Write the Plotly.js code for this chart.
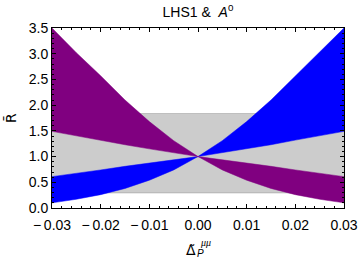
<!DOCTYPE html>
<html>
<head>
<meta charset="utf-8">
<script src="https://cdn.plot.ly/plotly-3.0.1.min.js"></script>
<style>html,body{margin:0;padding:0;background:#fff;}#chart{width:360px;height:258px;}</style>
</head>
<body>
<div id="chart"></div>
<script>
// Data
const deltaP = [-0.03, -0.025, -0.02, -0.015, -0.01, -0.005, 0, 0.005, 0.01, 0.015, 0.02, 0.025, 0.03];
const purpleUpper = [3.50, 3.02, 2.57, 2.10, 1.68, 1.31, 1.00, 0.94, 0.87, 0.81, 0.74, 0.67, 0.61];
const purpleLower = [1.49, 1.41, 1.32, 1.23, 1.15, 1.07, 1.00, 0.74, 0.54, 0.38, 0.26, 0.17, 0.10];
const blueUpper = [0.61, 0.67, 0.74, 0.81, 0.87, 0.94, 1.00, 1.31, 1.68, 2.10, 2.57, 3.02, 3.50];
const blueLower = [0.10, 0.17, 0.26, 0.38, 0.54, 0.74, 1.00, 1.07, 1.15, 1.23, 1.32, 1.41, 1.49];
const bandRange = [0.30, 1.83];
const xTickVals = [-0.03, -0.02, -0.01, 0, 0.01, 0.02, 0.03];
const xTickText = ["\u2212\u20090.03", "\u2212\u20090.02", "\u2212\u20090.01", "0.00", "0.01", "0.02", "0.03"];
const yTickVals = [0, 0.5, 1, 1.5, 2, 2.5, 3, 3.5];
const yTickText = ["0.0", "0.5", "1.0", "1.5", "2.0", "2.5", "3.0", "3.5"];

function polygon(xs, up, lo) {
  return {
    x: xs.concat(xs.slice().reverse()),
    y: up.concat(lo.slice().reverse())
  };
}

const pb = polygon(deltaP, blueUpper, blueLower);
const pp = polygon(deltaP, purpleUpper, purpleLower);

const traces = [
  {x: [deltaP[0], deltaP[deltaP.length-1], deltaP[deltaP.length-1], deltaP[0]],
   y: [bandRange[0], bandRange[0], bandRange[1], bandRange[1]],
   type: 'scatter', mode: 'lines', fill: 'toself', fillcolor: '#cccccc',
   line: {width: 0}, hoverinfo: 'skip', showlegend: false},
  {x: pb.x, y: pb.y, type: 'scatter', mode: 'lines', fill: 'toself',
   fillcolor: '#0000ff', line: {width: 0.5, color: '#0000ff'}, showlegend: false},
  {x: pp.x, y: pp.y, type: 'scatter', mode: 'lines', fill: 'toself',
   fillcolor: '#800080', line: {width: 0.5, color: '#800080'}, showlegend: false}
];

const font = {family: 'Liberation Sans, Arial, sans-serif', size: 14, color: '#000'};

const layout = {
  width: 360, height: 258,
  margin: {l: 52, r: 16, t: 28, b: 50},
  paper_bgcolor: '#fff', plot_bgcolor: '#fff',
  showlegend: false,
  font: font,
  title: {text: 'LHS1\u00a0&\u00a0\u00a0<i>A</i><sup>0</sup>', x: 0.55, xanchor: 'center', y: 0.955, yanchor: 'middle',
          font: {family: 'Liberation Sans, Arial, sans-serif', size: 14, color: '#000'}},
  xaxis: {
    range: [-0.03, 0.03], showgrid: false, zeroline: false,
    showline: true, linecolor: '#000', linewidth: 1, mirror: 'ticks',
    ticks: 'inside', ticklen: 4, tickwidth: 1, tickcolor: '#000',
    tickvals: xTickVals, ticktext: xTickText, ticklabelstandoff: 4,
    minor: {ticks: 'inside', ticklen: 2, dtick: 0.002, tickcolor: '#000', showgrid: false},
    tickfont: font
  },
  yaxis: {
    range: [0, 3.5], showgrid: false, zeroline: false,
    showline: true, linecolor: '#000', linewidth: 1, mirror: 'ticks',
    ticks: 'inside', ticklen: 4, tickwidth: 1, tickcolor: '#000',
    tickvals: yTickVals, ticktext: yTickText,
    minor: {ticks: 'inside', ticklen: 2, dtick: 0.1, tickcolor: '#000', showgrid: false},
    tickfont: font,
    title: {text: 'R\u0304', font: {family: 'DejaVu Sans, sans-serif', size: 14, color: '#000'}, standoff: 8}
  },
  shapes: [
    {type: 'line', xref: 'x', yref: 'y', x0: deltaP[0], x1: deltaP[deltaP.length-1], y0: bandRange[1], y1: bandRange[1],
     line: {color: '#999', width: 1}, layer: 'below'},
    {type: 'line', xref: 'x', yref: 'y', x0: deltaP[0], x1: deltaP[deltaP.length-1], y0: bandRange[0], y1: bandRange[0],
     line: {color: '#aaa', width: 1.5}, layer: 'below'}
  ],
  annotations: [
    {text: '\u0394\u0303', xref: 'paper', yref: 'paper', x: 0.475, y: -0.232, xanchor: 'center', yanchor: 'middle',
     showarrow: false, font: {family: 'DejaVu Sans, sans-serif', size: 14, color: '#000'}},
    {text: '<i>\u03bc\u03bc</i>', xref: 'paper', yref: 'paper', x: 0.525, y: -0.19, xanchor: 'center', yanchor: 'middle',
     showarrow: false, font: {family: 'Liberation Serif, serif', size: 10, color: '#000'}},
    {text: '<i>P</i>', xref: 'paper', yref: 'paper', x: 0.508, y: -0.25, xanchor: 'center', yanchor: 'middle',
     showarrow: false, font: {family: 'Liberation Sans, Arial, sans-serif', size: 10, color: '#000'}}
  ]
};

Plotly.newPlot('chart', traces, layout, {displayModeBar: false, staticPlot: true});
</script>
</body>
</html>
